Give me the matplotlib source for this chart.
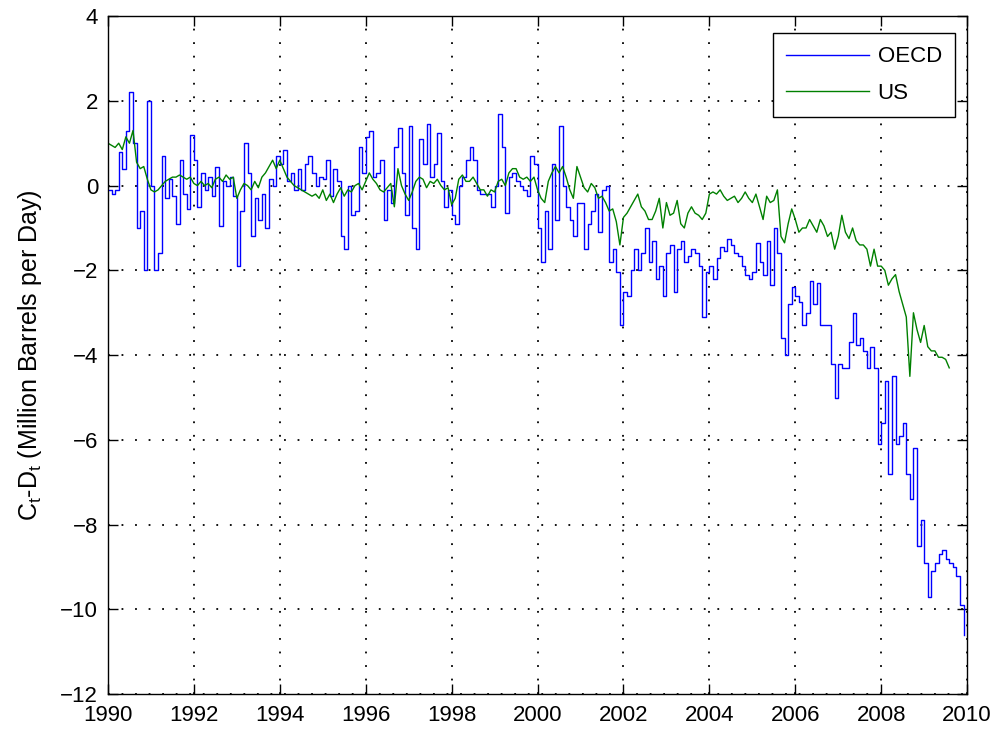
import numpy as np
import matplotlib.pyplot as plt

plt.rcParams['font.family'] = ['Liberation Sans', 'DejaVu Sans']
plt.rcParams['mathtext.fontset'] = 'custom'
plt.rcParams['mathtext.rm'] = 'Liberation Sans'
plt.rcParams['mathtext.it'] = 'Liberation Sans'

# monthly values, Jan 1990 onward (million barrels per day)
oecd = [
    -0.1, -0.2, -0.1, 0.8, 0.4, 1.3, 2.2, 1.0, -1.0, -0.6, -2.0, 2.0,          # 1990
    0.0, -2.0, -1.6, 0.7, -0.3, 0.15, -0.25, -0.9, 0.6, -0.2, -0.55, 1.2,      # 1991
    0.6, -0.5, 0.3, -0.1, 0.2, -0.25, 0.45, -0.95, 0.1, 0.0, 0.2, -0.25,       # 1992
    -1.9, -0.6, 1.0, 0.3, -1.2, -0.3, -0.8, -0.2, -1.0, 0.15, 0.0, 0.7,        # 1993
    0.5, 0.85, 0.1, 0.3, -0.1, 0.4, -0.1, 0.5, 0.7, 0.3, 0.0, 0.2,            # 1994
    0.15, 0.6, -0.25, 0.4, 0.1, -1.2, -1.5, 0.0, -0.7, -0.6, 0.9, 0.3,         # 1995
    1.15, 1.3, 0.2, 0.3, 0.6, -0.8, -0.1, -0.4, 0.9, 1.35, 0.3, -0.7,         # 1996
    1.4, -1.0, -1.5, 1.1, 0.5, 1.45, 0.2, 0.5, 1.25, 0.1, -0.5, -0.1,         # 1997
    -0.7, -0.9, 0.0, 0.2, 0.6, 0.9, 0.6, -0.1, -0.2, -0.2, -0.2, -0.5,        # 1998
    0.0, 1.7, 0.9, -0.65, 0.2, 0.3, 0.1, 0.0, -0.1, -0.25, 0.7, 0.5,          # 1999
    -1.0, -1.8, -0.6, -1.5, 0.5, -0.8, 1.4, 0.0, -0.5, -0.8, -1.2, -0.4,      # 2000
    -0.4, -1.5, -0.9, -0.6, -0.2, -1.1, -0.1, 0.0, -1.8, -1.5, -2.05, -3.3,   # 2001
    -2.5, -2.6, -2.0, -1.5, -2.0, -1.6, -1.0, -1.8, -1.3, -2.2, -1.9, -2.6,   # 2002
    -1.6, -1.4, -2.5, -1.5, -1.3, -1.8, -1.65, -1.5, -1.6, -1.9, -3.1, -2.05, # 2003
    -1.9, -2.2, -1.7, -1.45, -1.55, -1.25, -1.4, -1.6, -1.65, -1.9, -2.1, -2.2,  # 2004
    -2.05, -1.35, -1.8, -2.1, -1.3, -2.35, -1.0, -1.6, -3.6, -4.0, -2.8, -2.4,   # 2005
    -2.6, -2.75, -3.3, -3.0, -2.25, -2.8, -2.3, -3.3, -3.3, -3.3, -4.2, -5.0,    # 2006
    -4.2, -4.3, -4.3, -3.7, -3.0, -3.75, -3.6, -3.9, -4.3, -3.8, -4.3, -6.1,     # 2007
    -5.6, -4.6, -6.8, -4.5, -6.1, -5.9, -5.6, -6.8, -7.4, -6.2, -8.5, -7.9,      # 2008
    -8.9, -9.7, -9.1, -8.9, -8.7, -8.6, -8.8, -8.9, -9.0, -9.2, -9.9, -10.6,     # 2009
]

us = [
    1.0, 0.95, 0.9, 1.0, 0.85, 1.15, 1.0, 1.3, 0.55, 0.4, 0.45, 0.15,          # 1990
    -0.1, -0.15, -0.1, 0.0, 0.1, 0.15, 0.2, 0.2, 0.25, 0.2, 0.15, 0.2,         # 1991
    0.05, 0.0, 0.1, 0.0, 0.05, -0.05, 0.15, 0.2, 0.1, 0.25, 0.15, 0.2,         # 1992
    -0.3, -0.1, 0.05, 0.0, -0.1, 0.1, -0.05, 0.2, 0.3, 0.45, 0.6, 0.4,         # 1993
    0.6, 0.4, 0.2, 0.1, 0.0, -0.05, -0.1, -0.15, -0.2, -0.25, -0.2, -0.3,      # 1994
    -0.1, -0.35, -0.2, -0.4, -0.2, -0.05, -0.25, -0.1, -0.15, 0.0, 0.05, -0.1, # 1995
    0.1, 0.3, 0.15, 0.05, -0.1, -0.15, -0.05, 0.05, -0.5, 0.4, 0.0, -0.2,      # 1996
    -0.35, -0.15, 0.1, 0.2, 0.15, -0.05, 0.1, 0.05, 0.15, 0.0, -0.1, -0.05,    # 1997
    -0.45, -0.3, 0.15, 0.25, 0.1, 0.1, 0.2, 0.05, -0.1, -0.1, -0.25, -0.1,     # 1998
    -0.15, 0.1, 0.15, 0.0, 0.3, 0.4, 0.4, 0.2, 0.15, 0.2, 0.1, 0.2,            # 1999
    -0.1, -0.3, -0.4, 0.1, 0.3, 0.45, 0.3, 0.45, 0.2, -0.1, -0.3, 0.45,        # 2000
    0.2, -0.05, -0.15, 0.05, -0.05, -0.3, -0.25, -0.4, -0.6, -0.55, -0.85, -1.4,  # 2001
    -0.75, -0.65, -0.5, -0.35, -0.2, -0.5, -0.6, -0.8, -0.8, -0.6, -0.3, -1.0,    # 2002
    -0.4, -0.7, -0.65, -0.35, -0.9, -1.0, -0.65, -0.5, -0.65, -0.7, -0.8, -0.65,  # 2003
    -0.2, -0.15, -0.2, -0.1, -0.25, -0.35, -0.3, -0.25, -0.4, -0.3, -0.15, -0.3,  # 2004
    -0.4, -0.2, -0.5, -0.8, -0.25, -0.4, -0.35, -0.1, -1.2, -1.35, -0.9, -0.55,   # 2005
    -0.8, -1.1, -1.0, -1.0, -0.8, -0.95, -1.1, -0.8, -0.95, -1.2, -1.1, -1.5,     # 2006
    -1.2, -0.7, -1.1, -1.25, -1.0, -1.3, -1.4, -1.4, -1.5, -1.9, -1.5, -1.9,      # 2007
    -1.9, -2.0, -2.35, -2.2, -2.1, -2.5, -2.8, -3.1, -4.5, -3.0, -3.4, -3.7,      # 2008
    -3.3, -3.8, -3.9, -3.9, -4.05, -4.05, -4.1, -4.3,                             # 2009
]

t_oecd = 1990 + np.arange(len(oecd)) / 12
t_us = 1990 + np.arange(len(us)) / 12

fig = plt.figure(figsize=(9.95, 7.3), dpi=100)
ax = fig.add_axes([0.1085, 0.049, 0.8635, 0.929])

ax.plot(t_oecd, oecd, color=(0, 0, 1), lw=1.0, drawstyle='steps-post', label='OECD')
ax.plot(t_us, us, color=(0, 0.5, 0), lw=1.0, label='US')

ax.set_xlim(1990, 2010)
ax.set_ylim(-12, 4)
ax.set_xticks(np.arange(1990, 2011, 2))
ax.set_yticks(np.arange(-12, 5, 2))
ax.tick_params(direction='in', length=7, width=1, top=True, right=True, labelsize=16)
ax.tick_params(axis='x', pad=8)
ax.tick_params(axis='y', pad=7)
ax.grid(True, color='black', linestyle=(0, (1, 6.5)), linewidth=1.3)
for s in ax.spines.values():
    s.set_linewidth(1.0)

ax.set_ylabel(r'C$_t$-D$_t$ (Million Barrels per Day)', fontsize=18, labelpad=12)

leg = ax.legend(loc='upper right', bbox_to_anchor=(0.986, 0.975), fontsize=16,
                fancybox=False, framealpha=1, edgecolor='black',
                handlelength=3.7, handletextpad=0.4, borderaxespad=0,
                borderpad=0.6, labelspacing=0.7)
leg.get_frame().set_linewidth(1.0)

fig.savefig('out.png', dpi=100)
